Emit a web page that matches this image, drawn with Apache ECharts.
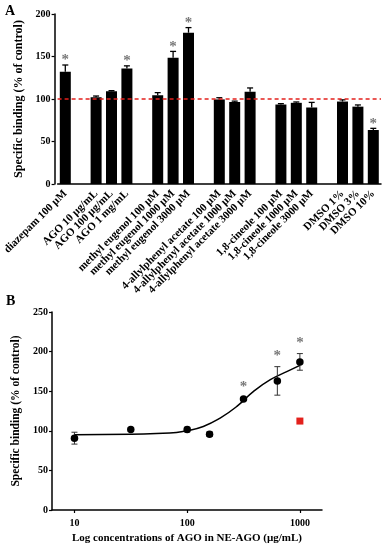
<!DOCTYPE html>
<html><head><meta charset="utf-8">
<script src="https://cdn.jsdelivr.net/npm/echarts@6/dist/echarts.min.js"></script>
<style>html,body{margin:0;padding:0;background:#fff}#c{width:391px;height:550px}</style>
</head><body><div id="c"></div>
<script>
// ---------- Panel A data ----------
const categoriesA = ['diazepam 100 µM', '',
  'AGO 10 µg/mL', 'AGO 100 µg/mL', 'AGO 1 mg/mL', '',
  'methyl eugenol 100 µM', 'methyl eugenol 1000 µM', 'methyl eugenol 3000 µM', '',
  '4-allylphenyl acetate 100 µM', '4-allylphenyl acetate 1000 µM', '4-allylphenyl acetate 3000 µM', '',
  '1,8-cineole 100 µM', '1,8-cineole 1000 µM', '1,8-cineole 3000 µM', '',
  'DMSO 1%', 'DMSO 3%', 'DMSO 10%'];
const valuesA = [132, null, 102, 109, 136, null, 104.5, 148.5, 178, null, 99.5, 96.5, 108.5, null, 93.5, 95.5, 90, null, 97, 91, 63.5];
const errorsA = [8, null, 1.5, 0.8, 3, null, 3, 7.5, 6, null, 2, 1, 4.5, null, 1, 1, 6, null, 2, 2, 2];
const significantA = [true, false, false, false, true, false, false, true, true, false, false, false, false, false, false, false, false, false, false, false, true];
const ticksA = [0, 50, 100, 150, 200];
const controlLevelA = 100;

// ---------- Panel B data ----------
const concB = [10, 31.6, 100, 158, 316, 631, 1000];
const valuesB = [90.7, 101.6, 101.5, 95.8, 140, 163, 187];
const errorsB = [7.5, 1.5, 3, 3, 1.5, 18, 10.5];
const significantB = [false, false, false, false, true, true, true];
const redConcB = [1000];
const redValuesB = [112.3];
const redErrorsB = [2.5];
const fitConcB = [10, 31.6, 70, 98, 139, 196, 276, 388, 547, 773, 1000];
const fitValuesB = [95, 95.8, 97.1, 100, 105.5, 116, 130.8, 149.8, 164.6, 175, 182.7];
const ticksBx = [10, 100, 1000];
const ticksBy = [0, 50, 100, 150, 200, 250];

const F = 'Liberation Serif';
const chart = echarts.init(document.getElementById('c'), null, {renderer: 'canvas'});

function errUp(color, lw, cap) {
  return function (params, api) {
    const x = api.value(0), v = api.value(1), e = api.value(2);
    const p0 = api.coord([x, v]);
    const p1 = api.coord([x, v + e]);
    return {type: 'group', children: [
      {type: 'line', shape: {x1: p0[0], y1: p0[1], x2: p1[0], y2: p1[1]}, style: {stroke: color, lineWidth: lw}},
      {type: 'line', shape: {x1: p1[0] - cap, y1: p1[1], x2: p1[0] + cap, y2: p1[1]}, style: {stroke: color, lineWidth: lw}}
    ]};
  };
}
function errBoth(color, lw, cap) {
  return function (params, api) {
    const x = api.value(0), v = api.value(1), e = api.value(2);
    const pl = api.coord([x, v - e]);
    const ph = api.coord([x, v + e]);
    return {type: 'group', children: [
      {type: 'line', shape: {x1: pl[0], y1: pl[1], x2: ph[0], y2: ph[1]}, style: {stroke: color, lineWidth: lw}},
      {type: 'line', shape: {x1: ph[0] - cap, y1: ph[1], x2: ph[0] + cap, y2: ph[1]}, style: {stroke: color, lineWidth: lw}},
      {type: 'line', shape: {x1: pl[0] - cap, y1: pl[1], x2: pl[0] + cap, y2: pl[1]}, style: {stroke: color, lineWidth: lw}}
    ]};
  };
}

const errDataA = [];
const starDataA = [];
valuesA.forEach((v, i) => {
  if (v == null) return;
  errDataA.push([i, v, errorsA[i]]);
  if (significantA[i]) starDataA.push([i, v + errorsA[i]]);
});
const errDataB = concB.map((c, i) => [c, valuesB[i], errorsB[i]]);
const starDataB = concB.map((c, i) => significantB[i] ? [c, valuesB[i] + errorsB[i]] : null).filter(d => d);
const redErrB = redConcB.map((c, i) => [c, redValuesB[i], redErrorsB[i]]);

const axisTxt = {fontFamily: F, fontWeight: 'bold', fontSize: 10, color: '#000'};

const option = {
  animation: false,
  backgroundColor: '#fff',
  textStyle: {fontFamily: F},
  graphic: [
    {type: 'text', left: 5, top: 4, style: {text: 'A', font: 'bold 14px "Liberation Serif"', fill: '#000'}},
    {type: 'text', left: 6, top: 294, style: {text: 'B', font: 'bold 14px "Liberation Serif"', fill: '#000'}}
  ],
  grid: [
    {left: 55, right: 10, top: 14, height: 170},
    {left: 52, right: 69, top: 312, height: 198}
  ],
  xAxis: [
    {
      type: 'category', gridIndex: 0, data: categoriesA,
      axisLine: {lineStyle: {color: '#000', width: 1.5}},
      axisTick: {alignWithLabel: true, interval: 0, length: 3, lineStyle: {color: '#000', width: 1.2}},
      axisLabel: Object.assign({}, axisTxt, {interval: 0, rotate: 45, margin: 8, fontSize: 11})
    },
    {
      type: 'log', gridIndex: 1, logBase: 10, min: 6.32, max: 1571,
      axisLine: {lineStyle: {color: '#000', width: 1.5}},
      axisTick: {customValues: ticksBx, length: 3, lineStyle: {color: '#000', width: 1.2}},
      axisLabel: Object.assign({customValues: ticksBx, margin: 8, formatter: v => String(Math.round(v))}, axisTxt),
      splitLine: {show: false},
      name: 'Log concentrations of AGO in NE-AGO (µg/mL)',
      nameLocation: 'middle', nameGap: 23,
      nameTextStyle: {fontFamily: F, fontWeight: 'bold', fontSize: 11, color: '#000'}
    }
  ],
  yAxis: [
    {
      type: 'value', gridIndex: 0, min: 0, max: 200, interval: 50, offset: 3,
      axisLine: {show: true, lineStyle: {color: '#000', width: 1.5}},
      axisTick: {show: true, length: 3, lineStyle: {color: '#000', width: 1.2}},
      axisLabel: Object.assign({margin: 4, customValues: ticksA}, axisTxt),
      splitLine: {show: false},
      name: 'Specific binding (% of control)', nameLocation: 'middle', nameGap: 23,
      nameTextStyle: {fontFamily: F, fontWeight: 'bold', fontSize: 12, color: '#000', padding: [0, 0, 0, 0]}
    },
    {
      type: 'value', gridIndex: 1, min: 0, max: 250, interval: 50,
      axisLine: {show: true, lineStyle: {color: '#000', width: 1.5}},
      axisTick: {show: true, length: 3, lineStyle: {color: '#000', width: 1.2}},
      axisLabel: Object.assign({margin: 4, customValues: ticksBy}, axisTxt),
      splitLine: {show: false},
      name: 'Specific binding (% of control)', nameLocation: 'middle', nameGap: 25,
      nameTextStyle: {fontFamily: F, fontWeight: 'bold', fontSize: 11.5, color: '#000'}
    }
  ],
  series: [
    {
      type: 'bar', xAxisIndex: 0, yAxisIndex: 0, data: valuesA, barWidth: 11,
      itemStyle: {color: '#000'},
      markLine: {
        silent: true, symbol: 'none', label: {show: false},
        lineStyle: {color: '#e3211c', type: [4, 3], width: 1.5},
        data: [{yAxis: controlLevelA}]
      },
      z: 2
    },
    {
      type: 'custom', xAxisIndex: 0, yAxisIndex: 0, data: errDataA,
      renderItem: errUp('#000', 1.3, 3), encode: {x: 0, y: [1, 2]}, z: 3
    },
    {
      type: 'scatter', xAxisIndex: 0, yAxisIndex: 0, data: starDataA, symbolSize: 0,
      label: {show: true, formatter: '*', position: 'top', distance: -3, fontFamily: F, fontWeight: 'bold', fontSize: 15, color: '#555'}
    },
    {
      type: 'custom', xAxisIndex: 1, yAxisIndex: 1, data: errDataB,
      renderItem: errBoth('#333', 1, 3), encode: {x: 0, y: [1, 2]}, z: 3
    },
    {
      type: 'custom', xAxisIndex: 1, yAxisIndex: 1, data: redErrB,
      renderItem: errBoth('#e3211c', 1, 2), encode: {x: 0, y: [1, 2]}, z: 3
    },
    {
      type: 'line', xAxisIndex: 1, yAxisIndex: 1, smooth: 0.5, showSymbol: false,
      data: fitConcB.map((c, i) => [c, fitValuesB[i]]),
      lineStyle: {color: '#000', width: 1.5}, z: 2
    },
    {
      type: 'scatter', xAxisIndex: 1, yAxisIndex: 1, symbolSize: 7.5,
      data: concB.map((c, i) => [c, valuesB[i]]), itemStyle: {color: '#000', opacity: 1}, z: 4
    },
    {
      type: 'scatter', xAxisIndex: 1, yAxisIndex: 1, symbol: 'rect', symbolSize: 7,
      data: redConcB.map((c, i) => [c, redValuesB[i]]), itemStyle: {color: '#e3211c', opacity: 1}, z: 4
    },
    {
      type: 'scatter', xAxisIndex: 1, yAxisIndex: 1, data: starDataB, symbolSize: 0,
      label: {show: true, formatter: '*', position: 'top', distance: 3, fontFamily: F, fontWeight: 'bold', fontSize: 15, color: '#555'}
    }
  ]
};
chart.setOption(option);
</script>
</body></html>
